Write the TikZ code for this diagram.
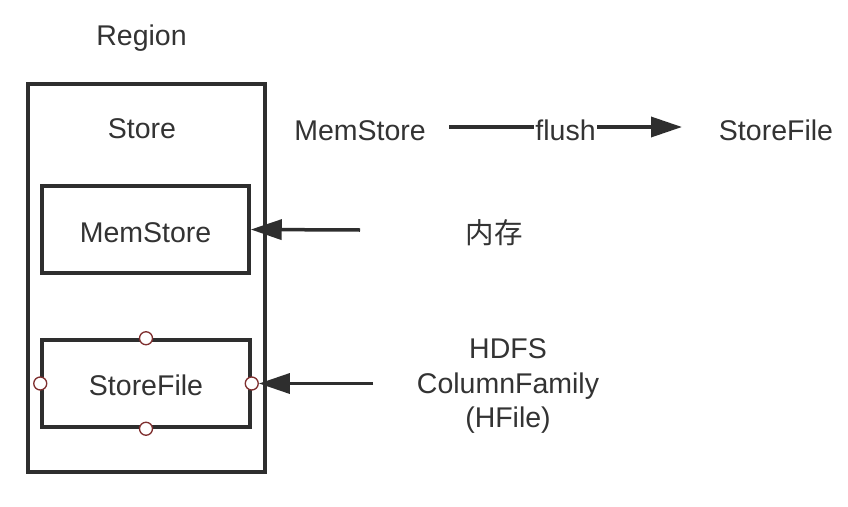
\documentclass[tikz,border=0pt]{standalone}
\usepackage{fontspec}
\setmainfont{Liberation Sans}
\newfontfamily\cjk{Noto Sans CJK SC}
\usetikzlibrary{arrows.meta}
\definecolor{ink}{HTML}{333333}
\definecolor{linec}{HTML}{2E2E2E}
\definecolor{portc}{HTML}{7F2F2F}
\begin{document}
\begin{tikzpicture}[x=1pt,y=-1pt,
  font=\fontsize{28.5}{34.5}\selectfont, text=ink,
  box/.style={draw=linec, line width=3.5pt, inner sep=0pt},
  lbl/.style={inner sep=0pt},
  port/.style={circle, draw=portc, fill=white, line width=1.3pt, minimum size=13pt, inner sep=0pt},
  arr/.style={draw=linec, line width=3.5pt, -{Triangle[length=31pt,width=20pt]}}]
\useasboundingbox[fill=white] (0,0) rectangle (848,506);

% container
\node[box, minimum width=237pt, minimum height=388pt] (region) at (146.5,278) {};
\node[lbl, anchor=base] (regionlbl) at (141.5,45) {Region};
\node[lbl, anchor=base] (storelbl) at (142,138) {Store};

% inner boxes
\node[box, minimum width=207pt, minimum height=87pt] (mem) at (145.5,229.5) {};
\node[lbl, anchor=base] (memtxt) at (145.5,242) {MemStore};
\node[box, minimum width=208pt, minimum height=87pt] (sf) at (146,383.5) {};
\node[lbl, anchor=base] (sftxt) at (146,395) {StoreFile};

% ports
\node[port] (pn) at (sf.north) {};
\node[port] (ps) at (sf.south) {};
\node[port] (pw) at (sf.west) {};
\node[port] (pe) at (sf.east) {};

% flush
\node[lbl, anchor=base] (memlbl) at (360,140) {MemStore};
\node[lbl, anchor=base] (sflbl) at (776,140) {StoreFile};
\coordinate (fa) at (449,127);
\coordinate (fb) at (682,127);
\draw[arr] (fa) -- node[fill=white, inner sep=1pt, yshift=-3pt] (flush) {flush} (fb);

% right side labels
\node[lbl] (mem2) at (494,233) {\cjk 内存};
\node[lbl, align=center] (hdfs) at (508,386) {HDFS\\ColumnFamily\\(HFile)};

% arrows
\coordinate (ma) at (360,230);
\draw[arr] (ma) -- (mem.east);
\coordinate (sa) at (373,383.5);
\draw[arr] (sa) -- (pe.east);
\end{tikzpicture}
\end{document}
